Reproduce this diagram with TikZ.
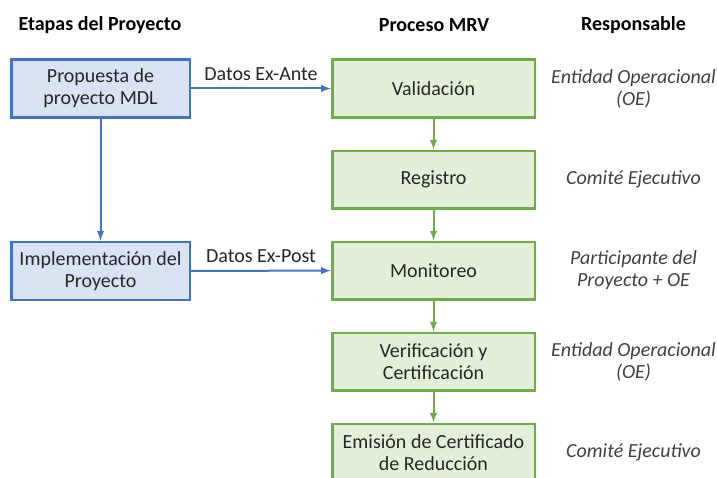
\documentclass[tikz,border=0pt]{standalone}
\usepackage{fontspec}
\setmainfont{Carlito}

\definecolor{etapaborde}{HTML}{4472C4}
\definecolor{etapafondo}{HTML}{DAE3F3}
\definecolor{mrvborde}{HTML}{70AD47}
\definecolor{mrvfondo}{HTML}{E2F0D9}
\definecolor{textocaja}{HTML}{262626}
\definecolor{grisresp}{HTML}{404040}

\tikzstyle{etapa} = [align=center,draw=etapaborde,fill=etapafondo,line width=2pt,minimum width=134pt,minimum height=43.5pt,text=textocaja,font=\fontsize{15}{16.5}\selectfont]
\tikzstyle{mrv} = [align=center,draw=mrvborde,fill=mrvfondo,line width=2pt,minimum width=152pt,minimum height=43pt,text=textocaja,font=\fontsize{15}{16.5}\selectfont]
\tikzstyle{resp} = [align=center,text=grisresp,font=\fontsize{15}{16.5}\selectfont\itshape]
\tikzstyle{titulo} = [font=\fontsize{15}{16.5}\selectfont\bfseries]
\tikzstyle{dato} = [above,text=textocaja,font=\fontsize{15}{16.5}\selectfont,inner sep=5pt]
\tikzstyle{flechaetapa} = [->,draw=etapaborde,line width=1.5pt]
\tikzstyle{flechamrv} = [->,draw=mrvborde,line width=1.5pt]

\begin{document}
\begin{tikzpicture}[x=0.75pt,y=-0.75pt,node distance=68.25pt,>=latex]
	\useasboundingbox (0,0) rectangle (717,478);
	\clip (0,0) rectangle (717,478);
	\node (titetapas) [titulo] at (100,25) {Etapas del Proyecto};
	\node (titmrv) [titulo] at (434,25) {Proceso MRV};
	\node (titresp) [titulo] at (633.5,25) {Responsable};
	\node (valid) [mrv] at (433.5,88.5) {Validación};
	\node (registro) [mrv,below of=valid] {Registro};
	\node (monit) [mrv,below of=registro] {Monitoreo};
	\node (verif) [mrv,below of=monit] {Verificación y\\Certificación};
	\node (emision) [mrv,below of=verif] {Emisión de Certificado\\de Reducción};
	\node (prop) [etapa] at (100.5,88.5) {Propuesta de\\proyecto MDL};
	\node (impl) [etapa] at (100.5,271) {Implementación del\\Proyecto};
	\node (resp1) [resp,right of=valid,node distance=150pt] {Entidad Operacional\\(OE)};
	\node (resp2) [resp,right of=registro,node distance=150pt] {Comité Ejecutivo};
	\node (resp3) [resp,right of=monit,node distance=150pt] {Participante del\\Proyecto + OE};
	\node (resp4) [resp,right of=verif,node distance=150pt] {Entidad Operacional\\(OE)};
	\node (resp5) [resp,right of=emision,node distance=150pt] {Comité Ejecutivo};
	\draw [flechaetapa] (prop) -- node[dato] {Datos Ex-Ante} (valid);
	\draw [flechaetapa] (impl) -- node[dato] {Datos Ex-Post} (monit);
	\draw [flechaetapa] (prop) -- (impl);
	\draw [flechamrv] (valid) -- (registro);
	\draw [flechamrv] (registro) -- (monit);
	\draw [flechamrv] (monit) -- (verif);
	\draw [flechamrv] (verif) -- (emision);
\end{tikzpicture}
\end{document}
